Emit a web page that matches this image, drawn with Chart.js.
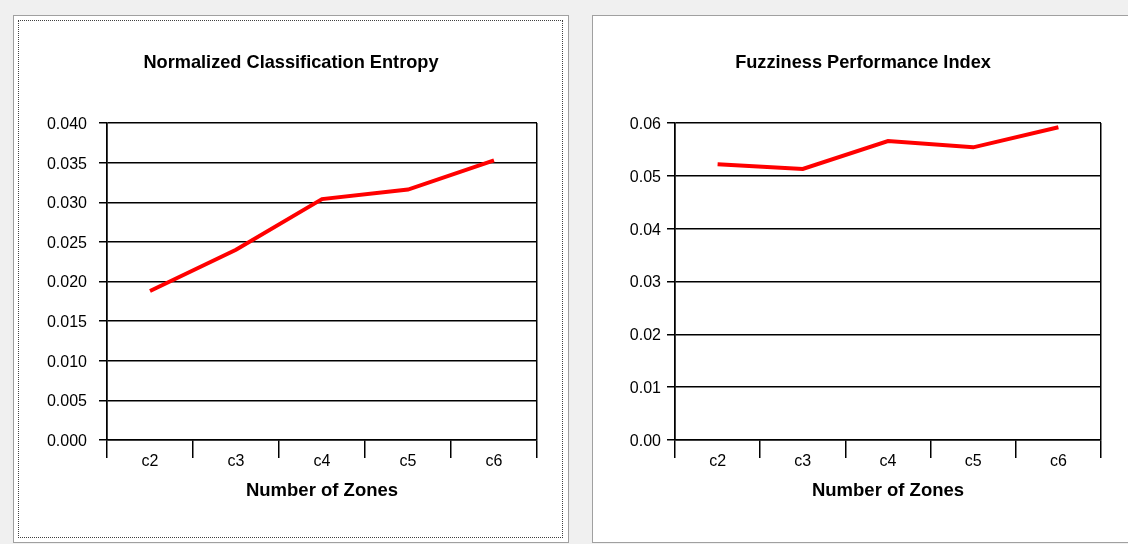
<!DOCTYPE html>
<html>
<head>
<meta charset="utf-8">
<script src="https://cdn.jsdelivr.net/npm/chart.js@4"></script>
<style>
  body { margin: 0; background: #f0f0f0; width: 1128px; height: 544px; overflow: hidden; position: relative; }
  .box { position: absolute; background: #fff; border: 1px solid #a0a0a0; }
  .dots { position: absolute; border: 1px dotted #404040; }
  canvas { position: absolute; }
</style>
</head>
<body>
<div class="box" style="left:13px;top:15px;width:554px;height:526px"></div>
<div class="dots" style="left:18px;top:20px;width:543px;height:516px"></div>
<canvas id="entropyChart" width="554" height="526" style="left:14px;top:16px"></canvas>

<div class="box" style="left:592px;top:15px;width:560px;height:526px"></div>
<canvas id="fpiChart" width="540" height="526" style="left:593px;top:16px"></canvas>

<script>
const zones = ['c2', 'c3', 'c4', 'c5', 'c6'];
const entropyValues = [0.0188, 0.0240, 0.0304, 0.0316, 0.0353];
const fpiValues = [0.0522, 0.0513, 0.0566, 0.0554, 0.0592];

const entropyAxis = { max: 0.04, step: 0.005, decimals: 3 };
const fpiAxis = { max: 0.06, step: 0.01, decimals: 2 };

const FONT = '"Liberation Sans", Arial, sans-serif';

function makeChart(id, title, values, axis, yWidth, rightPad, labelPad) {
  const ctx = document.getElementById(id).getContext('2d');
  return new Chart(ctx, {
    type: 'line',
    data: {
      labels: zones,
      datasets: [{
        data: values,
        borderColor: '#ff0000',
        borderWidth: 4,
        pointRadius: 0,
        tension: 0,
        fill: false
      }]
    },
    options: {
      responsive: false,
      animation: false,
      devicePixelRatio: 1,
      plugins: {
        legend: { display: false },
        tooltip: { enabled: false },
        title: {
          display: true,
          text: title,
          color: '#000',
          font: { family: FONT, size: 18.2, weight: 'bold' },
          padding: { top: 36, bottom: 49.2 }
        }
      },
      scales: {
        x: {
          offset: true,
          grid: {
            offset: true,
            // only the outer boundary lines cross the plot, the rest are tick marks
            color: c => (c.type !== 'tick' || c.index === 0) ? '#000' : 'rgba(0,0,0,0)',
            tickColor: '#000',
            tickLength: 18,
            lineWidth: 1.5
          },
          border: { color: '#000', width: 1.5 },
          ticks: { color: '#000', font: { family: FONT, size: 16 }, padding: -6 },
          title: {
            display: true,
            text: 'Number of Zones',
            color: '#000',
            font: { family: FONT, size: 18.5, weight: 'bold' },
            padding: { top: 0, bottom: 40 }
          },
          afterFit: s => { s.height = 102; }
        },
        y: {
          min: 0,
          max: axis.max,
          ticks: {
            stepSize: axis.step,
            color: '#000',
            font: { family: FONT, size: 16 },
            padding: labelPad,
            labelOffset: 1.5,
            callback: v => Number(v).toFixed(axis.decimals)
          },
          grid: { color: '#000', tickColor: '#000', tickLength: 8, lineWidth: 1.5 },
          border: { color: '#000', width: 1.5 },
          afterFit: s => { s.width = yWidth; }
        },
        // empty right-hand spacer so the title stays centred on the whole panel
        spacer: {
          type: 'linear',
          position: 'right',
          grid: { display: false },
          border: { display: false },
          ticks: { display: false },
          afterFit: s => { s.width = rightPad; }
        }
      }
    }
  });
}

makeChart('entropyChart', 'Normalized Classification Entropy', entropyValues, entropyAxis, 93, 31, 12);
makeChart('fpiChart', 'Fuzziness Performance Index', fpiValues, fpiAxis, 82, 32, 6);
</script>
</body>
</html>
